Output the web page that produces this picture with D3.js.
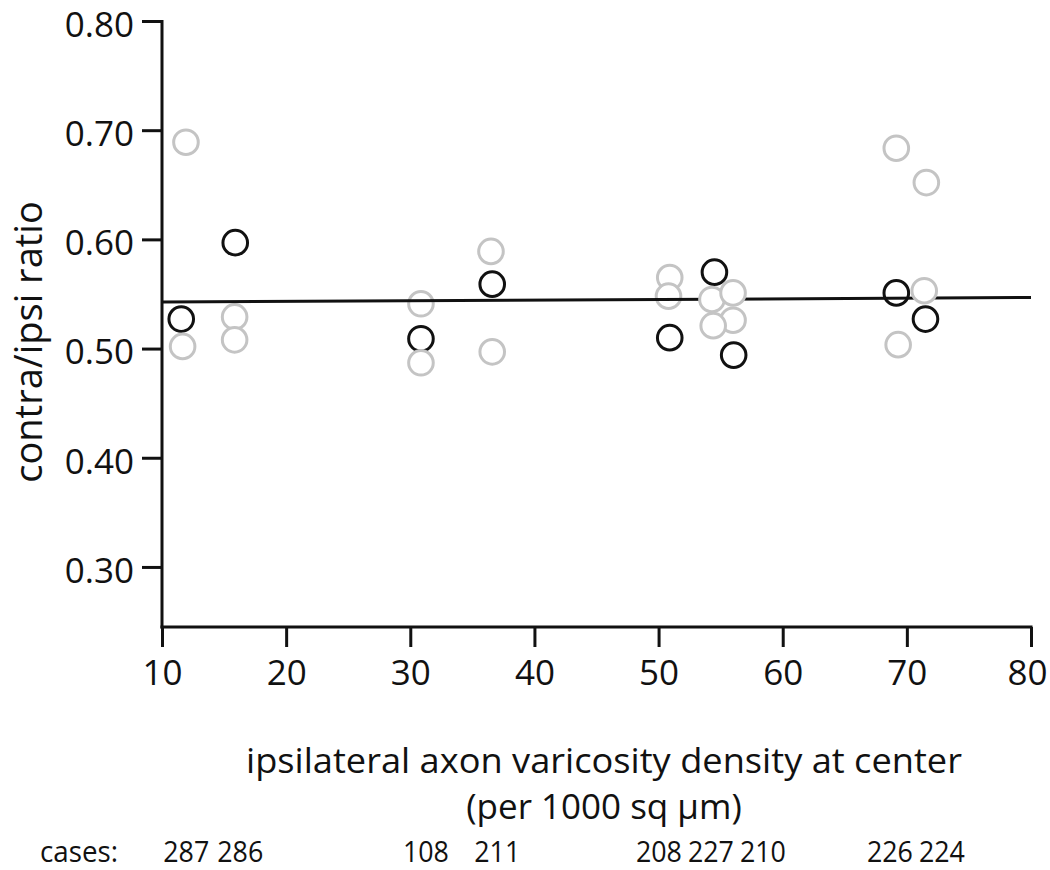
<!DOCTYPE html>
<html>
<head>
<meta charset="utf-8">
<script src="https://cdn.jsdelivr.net/npm/d3@7"></script>
<style>
  html, body { margin: 0; padding: 0; background: #fff; }
  svg { display: block; }
  text { font-family: "Open Sans", "Noto Sans", sans-serif; fill: #111; }
</style>
</head>
<body>
<svg id="chart" width="1050" height="870"></svg>
<script>
// ---- data ----
const xTicks = [10, 20, 30, 40, 50, 60, 70, 80];
const yTicks = [0.30, 0.40, 0.50, 0.60, 0.70, 0.80];
const xDomain = [10, 80];
const yDomain = [0.245, 0.80];

// black circles (one per case)
const blackX = [11.55, 15.9, 30.86, 36.6, 50.9, 54.5, 56.05, 69.15, 71.5];
const blackY = [0.527, 0.597, 0.509, 0.559, 0.510, 0.570, 0.494, 0.551, 0.527];

// grey circles
const greyX = [11.93, 11.66, 15.85, 15.85, 30.86, 30.86, 36.5, 36.6, 50.9, 50.8, 54.3, 56.0, 56.0, 54.4, 69.15, 71.57, 71.4, 69.3];
const greyY = [0.689, 0.502, 0.529, 0.508, 0.541, 0.487, 0.589, 0.497, 0.565, 0.548, 0.545, 0.551, 0.526, 0.521, 0.6835, 0.652, 0.553, 0.5036];

// fitted line end points
const fitX = [10, 80];
const fitY = [0.5426, 0.5468];

const caseLabels = ["287", "286", "108", "211", "208", "227", "210", "226", "224"];

const xTitle1 = "ipsilateral axon varicosity density at center";
const xTitle2 = "(per 1000 sq \u00B5m)";
const yTitle = "contra/ipsi ratio";

// ---- drawing ----
const svg = d3.select("#chart");
const x = d3.scaleLinear().domain(xDomain).range([162, 1031]);
const y = d3.scaleLinear().domain(yDomain).range([627, 21]);

const R = 12.3;

const black = blackX.map((v, i) => ({x: v, y: blackY[i]}));
const grey = greyX.map((v, i) => ({x: v, y: greyY[i]}));

function drawCircles(data, color) {
  svg.append("g").selectAll("circle").data(data).join("circle")
    .attr("cx", d => x(d.x)).attr("cy", d => y(d.y)).attr("r", R)
    .attr("fill", "#fff").attr("stroke", color).attr("stroke-width", 3);
}

drawCircles(black, "#111");
drawCircles(grey.filter(d => d.x < 52), "#c4c4c4");

svg.append("line")
  .attr("x1", x(fitX[0])).attr("y1", y(fitY[0]))
  .attr("x2", x(fitX[1])).attr("y2", y(fitY[1]))
  .attr("stroke", "#111").attr("stroke-width", 3);

drawCircles(grey.filter(d => d.x >= 52), "#c4c4c4");

// axes
const yAxis = svg.append("g").attr("transform", `translate(${x(10)},0)`)
  .call(d3.axisLeft(y).tickValues(yTicks).tickFormat(d3.format(".2f"))
    .tickSize(20).tickSizeOuter(0).tickPadding(8));
const xAxis = svg.append("g").attr("transform", `translate(0,${y(yDomain[0])})`)
  .call(d3.axisBottom(x).tickValues(xTicks).tickFormat(d3.format("d"))
    .tickSize(20).tickSizeOuter(0).tickPadding(13));

[xAxis, yAxis].forEach(g => {
  g.select(".domain").attr("stroke", "#111").attr("stroke-width", 3);
  g.selectAll(".tick line").attr("stroke", "#111").attr("stroke-width", 3);
  g.selectAll(".tick text").attr("font-size", 35)
    .attr("font-family", "'Open Sans', sans-serif").attr("fill", "#111");
});
yAxis.selectAll(".tick text").attr("dy", "0.44em");
// keep the last x label inside the page, as in the reference
xAxis.selectAll(".tick text").filter(d => d === xDomain[1]).attr("dx", -4);
// extend domain lines so the corner joins cleanly
xAxis.select(".domain").attr("d", `M${x(10) - 1.5},0H${x(80) + 1.5}`);
yAxis.select(".domain").attr("d", `M0,${y(0.80) - 1}V${y(yDomain[0]) + 1.5}`);

// axis titles
svg.append("text").attr("x", 604).attr("y", 773).attr("text-anchor", "middle")
  .attr("font-size", 35).attr("textLength", 716).attr("lengthAdjust", "spacingAndGlyphs")
  .text(xTitle1);
svg.append("text").attr("x", 604).attr("y", 819).attr("text-anchor", "middle")
  .attr("font-size", 35).text(xTitle2);
svg.append("text")
  .attr("transform", `translate(42,${(y(0.80) + y(yDomain[0])) / 2 + 18}) rotate(-90)`)
  .attr("text-anchor", "middle").attr("font-size", 38).text(yTitle);

// cases row: labels under each case, spread so they don't overlap
const minGap = 52;
const pos = blackX.map(v => x(v));
let groups = pos.map((p, i) => ({idx: [i], c: p}));
let changed = true;
while (changed) {
  changed = false;
  for (let i = 0; i < groups.length - 1; i++) {
    const a = groups[i], b = groups[i + 1];
    const aEnd = a.c + (a.idx.length - 1) * minGap / 2;
    const bStart = b.c - (b.idx.length - 1) * minGap / 2;
    if (bStart - aEnd < minGap) {
      const idx = a.idx.concat(b.idx);
      const c = d3.mean(idx, k => pos[k]);
      groups.splice(i, 2, {idx, c});
      changed = true;
      break;
    }
  }
}
const labelX = [];
groups.forEach(g => g.idx.forEach((k, j) => {
  labelX[k] = g.c + (j - (g.idx.length - 1) / 2) * minGap + 5;
}));

svg.append("text").attr("x", 40).attr("y", 862).attr("font-size", 30)
  .attr("textLength", 78).attr("lengthAdjust", "spacingAndGlyphs").text("cases:");
svg.append("g").selectAll("text").data(caseLabels).join("text")
  .attr("x", (d, i) => labelX[i]).attr("y", 862)
  .attr("text-anchor", "middle").attr("font-size", 30)
  .attr("textLength", 46).attr("lengthAdjust", "spacingAndGlyphs").text(d => d);
</script>
</body>
</html>
